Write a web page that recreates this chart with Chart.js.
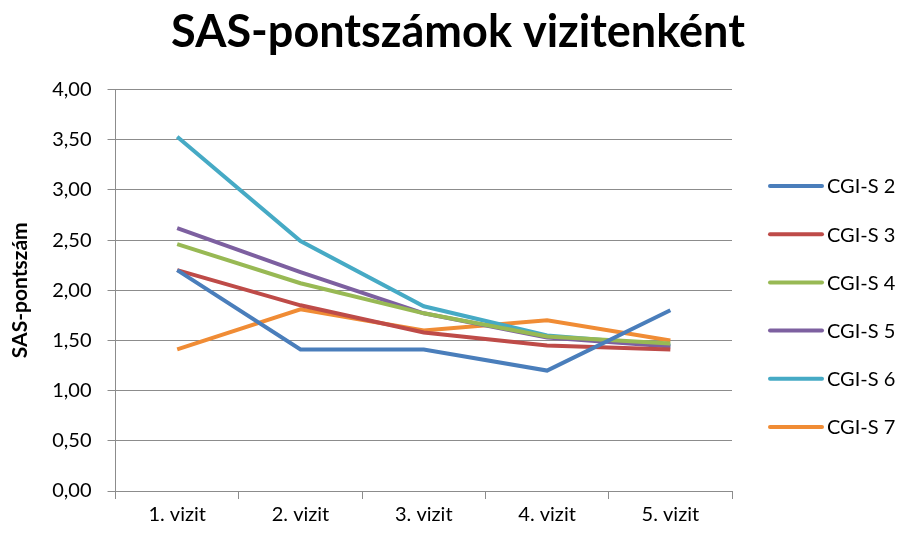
<!DOCTYPE html>
<html>
<head>
<meta charset="utf-8">
<script src="https://cdn.jsdelivr.net/npm/chart.js@4"></script>
<style>
  html, body { margin: 0; padding: 0; background: #fff; }
  #wrap { width: 908px; height: 535px; position: relative; }
</style>
</head>
<body>
<div id="wrap"><canvas id="chart"></canvas></div>
<script>
const categories = ['1. vizit', '2. vizit', '3. vizit', '4. vizit', '5. vizit'];
const seriesNames = ['CGI-S 2', 'CGI-S 3', 'CGI-S 4', 'CGI-S 5', 'CGI-S 6', 'CGI-S 7'];
const cgi2 = [2.20, 1.41, 1.41, 1.20, 1.80];
const cgi3 = [2.20, 1.85, 1.58, 1.45, 1.41];
const cgi4 = [2.46, 2.07, 1.77, 1.54, 1.47];
const cgi5 = [2.62, 2.18, 1.77, 1.53, 1.44];
const cgi6 = [3.53, 2.49, 1.84, 1.55, 1.45];
const cgi7 = [1.41, 1.81, 1.60, 1.70, 1.50];
const colors = ['#4A7EBB', '#BE4B48', '#98B954', '#7D60A0', '#46AAC5', '#F08C35'];

const allSeries = [cgi2, cgi3, cgi4, cgi5, cgi6, cgi7];
const FONT = 'Lato, "Open Sans", sans-serif';
const GRID = '#8c8c8c';

// legend on the right side, drawn in the space kept free by the hidden right axis
const sideLegend = {
  id: 'sideLegend',
  afterDraw(chart) {
    const ctx = chart.ctx;
    ctx.save();
    ctx.font = '20px ' + FONT;
    ctx.textBaseline = 'middle';
    chart.data.datasets.forEach((ds, i) => {
      const y = 186 + i * 48.2;
      ctx.strokeStyle = ds.borderColor;
      ctx.lineWidth = 4;
      ctx.lineCap = 'round';
      ctx.beginPath();
      ctx.moveTo(770, y);
      ctx.lineTo(822, y);
      ctx.stroke();
      ctx.fillStyle = '#000';
      ctx.fillText(ds.label, 827, y + 1);
    });
    ctx.restore();
  }
};

new Chart(document.getElementById('chart'), {
  type: 'line',
  data: {
    labels: categories,
    datasets: seriesNames.map((name, i) => ({
      label: name,
      data: allSeries[i],
      borderColor: colors[i],
      backgroundColor: colors[i],
      borderWidth: 4,
      pointRadius: 0,
      tension: 0,
      fill: false,
      yAxisID: 'y'
    }))
  },
  options: {
    responsive: true,
    maintainAspectRatio: false,
    animation: false,
    layout: { padding: { left: 8, right: 0, top: 0, bottom: 4 } },
    plugins: {
      legend: { display: false },
      tooltip: { enabled: false },
      title: {
        display: true,
        text: 'SAS-pontszámok vizitenként',
        color: '#000',
        font: { family: FONT, size: 45, weight: 'bold', lineHeight: 1.1 },
        padding: { top: 8, bottom: 32 }
      }
    },
    scales: {
      x: {
        offset: true,
        grid: { display: true, drawOnChartArea: false, drawTicks: true, tickLength: 8, color: GRID, offset: true },
        border: { color: GRID, width: 1 },
        ticks: { color: '#000', font: { family: FONT, size: 20 }, padding: 4 }
      },
      y: {
        min: 0,
        max: 4,
        ticks: {
          stepSize: 0.5,
          color: '#000',
          font: { family: FONT, size: 20 },
          padding: 16,
          callback: v => v.toFixed(2).replace('.', ',')
        },
        grid: { color: GRID, tickLength: 8 },
        border: { color: GRID, width: 1 },
        title: {
          display: true,
          text: 'SAS-pontszám',
          color: '#000',
          font: { family: FONT, size: 21, weight: 'bold' },
          padding: { top: 0, bottom: 3 }
        }
      },
      side: {
        position: 'right',
        display: true,
        grid: { display: false, drawTicks: false },
        border: { display: false },
        ticks: { display: false },
        afterFit: s => { s.width = 176; }
      }
    }
  },
  plugins: [sideLegend]
});
</script>
</body>
</html>
